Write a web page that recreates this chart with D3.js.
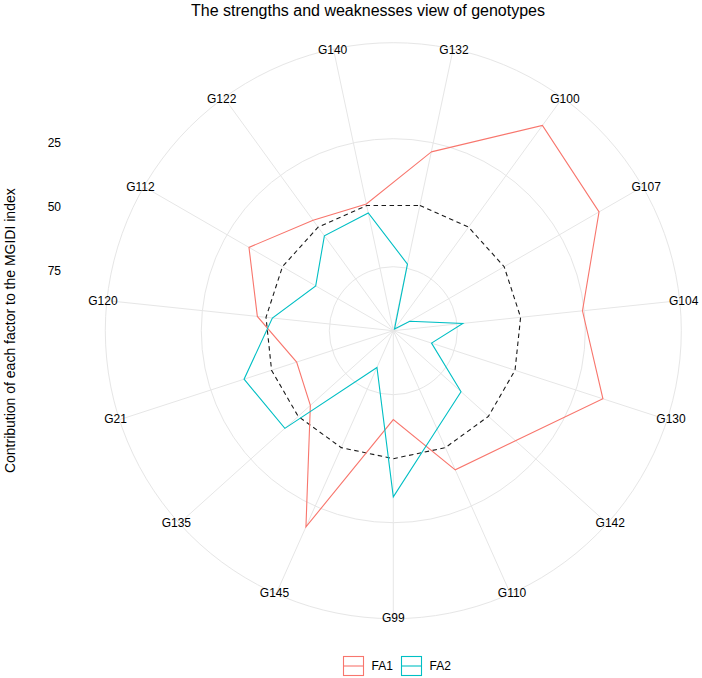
<!DOCTYPE html>
<html>
<head>
<meta charset="utf-8">
<script src="https://cdn.jsdelivr.net/npm/d3@7"></script>
<style>
  html, body { margin: 0; padding: 0; background: #fff; }
  svg { display: block; font-family: "Liberation Sans", Arial, Helvetica, sans-serif; }
</style>
</head>
<body>
<svg id="chart" width="702" height="678"></svg>
<script>
// ---- data ----
const categories = ["G132","G100","G107","G104","G130","G142","G110","G99","G145","G135","G21","G120","G112","G122","G140"];
const fa1 = [71.4, 99.1, 92.8, 74.3, 86.1, 64.2, 59.5, 34.7, 83.9, 43.6, 39.7, 53.4, 65.1, 53.3, 50.6];
const fa2 = [26.6, 0.8, 7.4, 27.3, 15.7, 35.6, 42.0, 64.9, 15.7, 57.0, 61.3, 47.5, 35.0, 45.8, 47.0];
const expected = [50, 50, 50, 50, 50, 50, 50, 50, 50, 50, 50, 50, 50, 50, 50];
const gridBreaks = [25, 75];
const tickLabels = [25, 50, 75];
const seriesNames = ["FA1", "FA2"];
const seriesColors = ["#F8766D", "#00BFC4"];

// ---- layout ----
const svg = d3.select("#chart");
const cx = 393.3, cy = 330.7;
const rMax = 256;            // radius of value 100
const rOuter = rMax * 0.45 / 0.4;

const r = d3.scaleLinear().domain([0, 100]).range([0, rMax]);
const theta = d3.scaleBand().domain(categories).range([0, 2 * Math.PI]).paddingInner(0).paddingOuter(0);
const ang = c => theta(c) + theta.bandwidth() / 2;

const g = svg.append("g").attr("transform", `translate(${cx},${cy})`);

// grid circles
const gridCol = "#e6e6e6";
g.selectAll("circle.grid")
  .data(gridBreaks.map(b => r(b)).concat([rOuter]))
  .join("circle")
  .attr("r", d => d)
  .attr("fill", "none")
  .attr("stroke", gridCol)
  .attr("stroke-width", 1);

// spokes
g.selectAll("line.spoke")
  .data(categories)
  .join("line")
  .attr("x1", 0).attr("y1", 0)
  .attr("x2", d => rOuter * Math.sin(ang(d)))
  .attr("y2", d => -rOuter * Math.cos(ang(d)))
  .attr("stroke", gridCol)
  .attr("stroke-width", 1);

// radial line generator (straight segments)
const radar = d3.lineRadial()
  .angle((d, i) => ang(categories[i]))
  .radius(d => r(d))
  .curve(d3.curveLinearClosed);

// expected (dashed)
g.append("path")
  .attr("d", radar(expected))
  .attr("fill", "none")
  .attr("stroke", "#1a1a1a")
  .attr("stroke-width", 1.1)
  .attr("stroke-dasharray", "4.5,3.5");

// series
[fa1, fa2].forEach((vals, k) => {
  g.append("path")
    .attr("d", radar(vals))
    .attr("fill", "none")
    .attr("stroke", seriesColors[k])
    .attr("stroke-width", 1.1)
    .attr("stroke-linejoin", "miter");
});

// category labels
const rLabX = 292, rLabY = 287;
g.selectAll("text.cat")
  .data(categories)
  .join("text")
  .attr("x", d => rLabX * Math.sin(ang(d)))
  .attr("y", d => -rLabY * Math.cos(ang(d)))
  .attr("text-anchor", "middle")
  .attr("dominant-baseline", "central")
  .attr("font-size", 12)
  .attr("fill", "#000")
  .text(d => d);

// r-axis tick labels on the left (reversed placement as in reference)
const yAxisScale = d3.scaleLinear().domain([0, 100]).range([cy + 4 - rMax, cy + 4]);
const axis = d3.axisLeft(yAxisScale).tickValues(tickLabels).tickSize(0).tickPadding(0);
const ax = svg.append("g").attr("transform", "translate(61,0)").call(axis);
ax.select(".domain").remove();
ax.selectAll("text")
  .attr("font-size", 12)
  .attr("font-family", "Liberation Sans, Arial, sans-serif")
  .attr("fill", "#000");

// y-axis title
svg.append("text")
  .attr("transform", `translate(9.5,${cy}) rotate(-90)`)
  .attr("text-anchor", "middle")
  .attr("dominant-baseline", "central")
  .attr("font-size", 14)
  .attr("fill", "#000")
  .text("Contribution of each factor to the MGIDI index");

// title
svg.append("text")
  .attr("x", 368)
  .attr("y", 15.5)
  .attr("text-anchor", "middle")
  .attr("font-size", 16)
  .attr("fill", "#000")
  .text("The strengths and weaknesses view of genotypes");

// legend
const legendX = [343.5, 401.5];
const leg = svg.append("g");
seriesNames.forEach((name, k) => {
  const lg = leg.append("g").attr("transform", `translate(${legendX[k]},656.5)`);
  lg.append("rect")
    .attr("width", 20).attr("height", 19)
    .attr("fill", "none")
    .attr("stroke", seriesColors[k])
    .attr("stroke-width", 1.1);
  lg.append("line")
    .attr("x1", 0).attr("x2", 20)
    .attr("y1", 9.5).attr("y2", 9.5)
    .attr("stroke", seriesColors[k])
    .attr("stroke-width", 1.1);
  lg.append("text")
    .attr("x", 28)
    .attr("y", 9.5)
    .attr("dominant-baseline", "central")
    .attr("font-size", 12)
    .attr("fill", "#000")
    .text(name);
});
</script>
</body>
</html>
